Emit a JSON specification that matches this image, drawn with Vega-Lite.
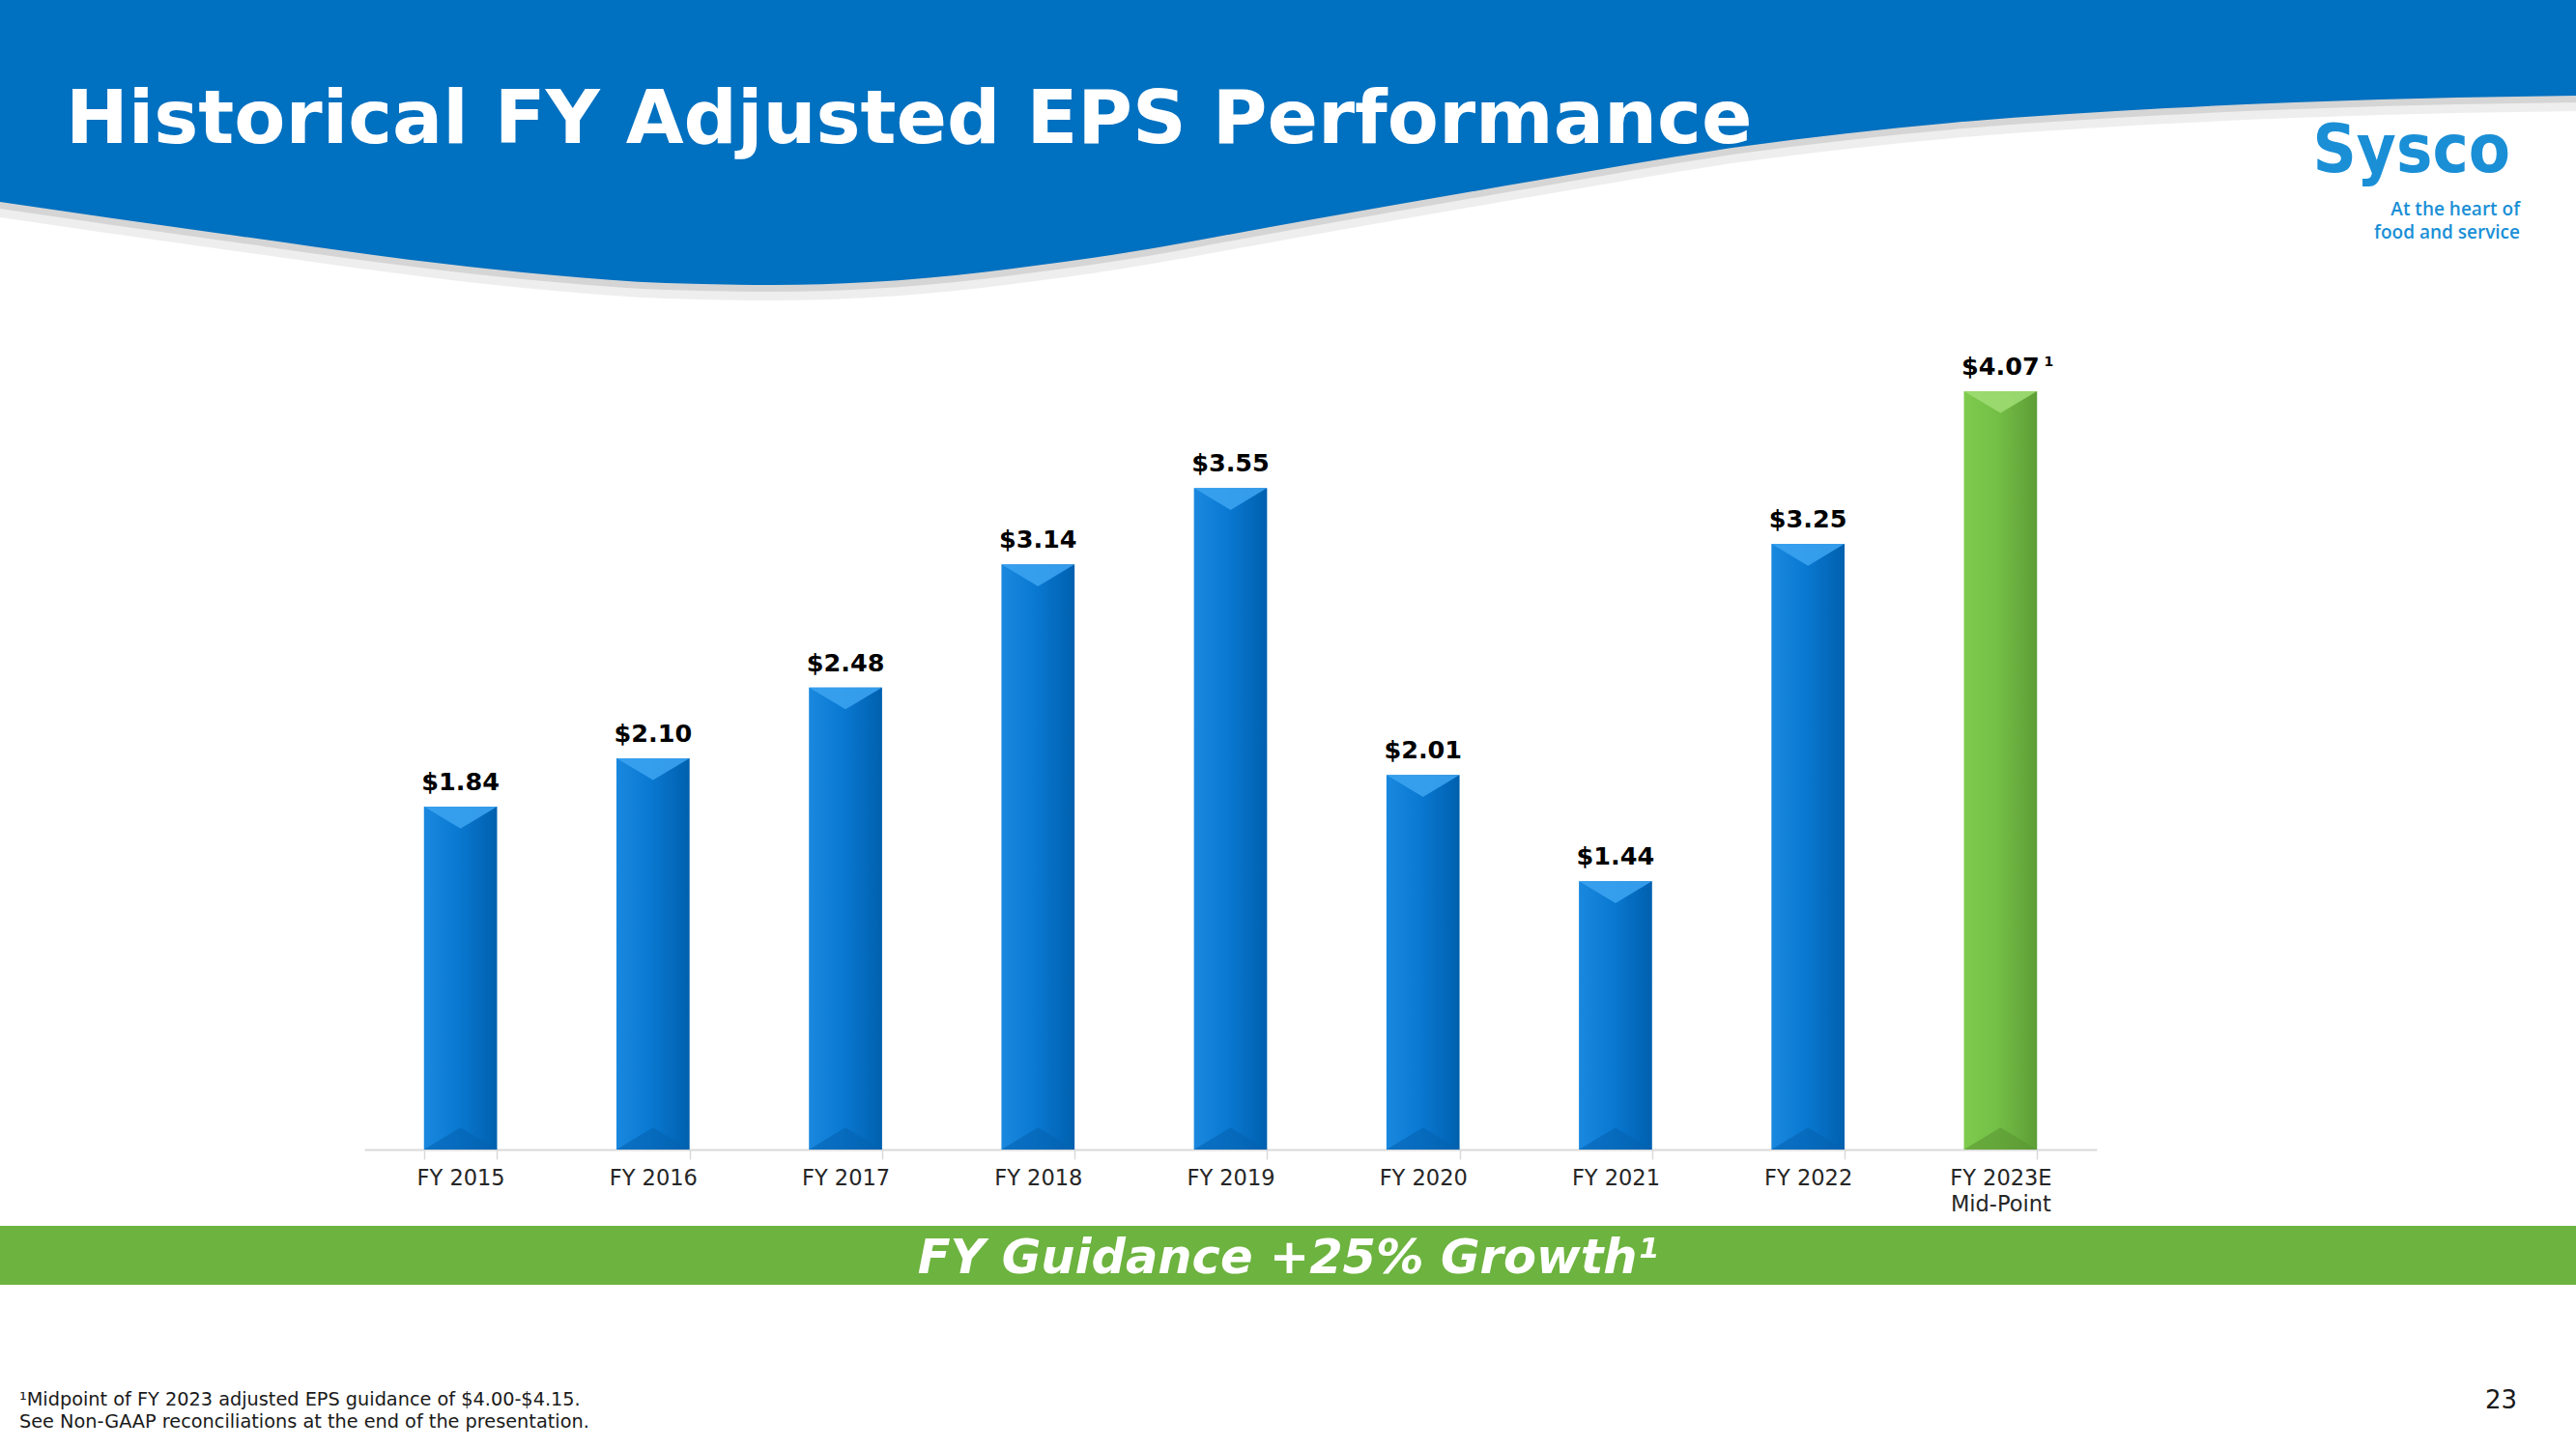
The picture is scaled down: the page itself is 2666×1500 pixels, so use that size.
{
  "$schema": "https://vega.github.io/schema/vega-lite/v6.json",
  "width": 1793,
  "height": 868,
  "autosize": "none",
  "padding": {"left": 377, "right": 496, "top": 322, "bottom": 310},
  "background": "white",
  "config": {"view": {"stroke": null}, "font": "DejaVu Sans"},
  "datasets": {
    "eps": [
      {"year": "FY 2015", "eps": 1.84, "kind": "actual"},
      {"year": "FY 2016", "eps": 2.10, "kind": "actual"},
      {"year": "FY 2017", "eps": 2.48, "kind": "actual"},
      {"year": "FY 2018", "eps": 3.14, "kind": "actual"},
      {"year": "FY 2019", "eps": 3.55, "kind": "actual"},
      {"year": "FY 2020", "eps": 2.01, "kind": "actual"},
      {"year": "FY 2021", "eps": 1.44, "kind": "actual"},
      {"year": "FY 2022", "eps": 3.25, "kind": "actual"},
      {"year": "FY 2023E Mid-Point", "eps": 4.07, "kind": "guidance", "note": "1"}
    ],
    "wave": [
      {"x": 0, "y": 1.045},
      {"x": 1.15, "y": 1.21},
      {"x": 2.295, "y": 1.365},
      {"x": 2.87, "y": 1.425},
      {"x": 3.445, "y": 1.465},
      {"x": 4.0, "y": 1.475},
      {"x": 4.5, "y": 1.46},
      {"x": 5.65, "y": 1.335},
      {"x": 6.795, "y": 1.135},
      {"x": 7.945, "y": 0.935},
      {"x": 9.0, "y": 0.76},
      {"x": 10.105, "y": 0.635},
      {"x": 11.21, "y": 0.56},
      {"x": 12.315, "y": 0.515},
      {"x": 13.333, "y": 0.495}
    ],
    "one": [{}]
  },
  "resolve": {"scale": {"x": "independent", "y": "independent"}},
  "layer": [
    {
      "data": {"name": "wave"},
      "mark": {"type": "area", "interpolate": "monotone", "color": "#8c8c8c", "opacity": 0.15, "clip": false},
      "encoding": {
        "x": {"field": "x", "type": "quantitative", "scale": {"domain": [1.885, 10.85], "zero": false, "nice": false}, "axis": null},
        "y": {"field": "y", "type": "quantitative", "scale": {"domain": [1.53, 5.87], "reverse": true, "zero": false, "nice": false}, "axis": null},
        "y2": {"datum": 0}
      }
    },
    {
      "data": {"name": "wave"},
      "mark": {"type": "area", "interpolate": "monotone", "color": "#8c8c8c", "opacity": 0.25, "clip": false},
      "encoding": {
        "x": {"field": "x", "type": "quantitative", "scale": {"domain": [1.885, 10.85], "zero": false, "nice": false}, "axis": null},
        "y": {"field": "y", "type": "quantitative", "scale": {"domain": [1.575, 5.915], "reverse": true, "zero": false, "nice": false}, "axis": null},
        "y2": {"datum": 0}
      }
    },
    {
      "data": {"name": "wave"},
      "mark": {"type": "area", "interpolate": "monotone", "color": "#0070c0", "clip": false},
      "encoding": {
        "x": {"field": "x", "type": "quantitative", "scale": {"domain": [1.885, 10.85], "zero": false, "nice": false}, "axis": null},
        "y": {"field": "y", "type": "quantitative", "scale": {"domain": [1.61, 5.95], "reverse": true, "zero": false, "nice": false}, "axis": null},
        "y2": {"datum": -0.05}
      }
    },
    {
      "data": {"name": "eps"},
      "encoding": {
        "x": {
          "field": "year", "type": "nominal", "sort": null,
          "scale": {"paddingInner": 0.62, "paddingOuter": 0.31},
          "axis": {
            "title": null, "domainColor": "#d9d9d9", "domainWidth": 2,
            "tickColor": "#d9d9d9", "tickWidth": 1.5, "tickSize": 10, "tickBand": "extent",
            "labelFont": "DejaVu Sans", "labelFontSize": 22.5, "labelColor": "#262626",
            "labelAngle": 0, "labelPadding": 8, "labelLineHeight": 27, "labelLimit": 0,
            "labelExpr": "datum.value === 'FY 2023E Mid-Point' ? ['FY 2023E', 'Mid-Point'] : datum.value"
          }
        },
        "y": {"field": "eps", "type": "quantitative", "scale": {"domain": [0, 4.5], "nice": false, "zero": true}, "axis": null}
      },
      "layer": [
        {
          "transform": [{"filter": "datum.kind === 'actual'"}],
          "mark": {"type": "bar", "color": {"gradient": "linear", "x1": 0, "y1": 0, "x2": 1, "y2": 0, "stops": [{"offset": 0, "color": "#1a88de"}, {"offset": 0.45, "color": "#0a79d2"}, {"offset": 1, "color": "#0060ae"}]}}
        },
        {
          "transform": [{"filter": "datum.kind === 'guidance'"}],
          "mark": {"type": "bar", "color": {"gradient": "linear", "x1": 0, "y1": 0, "x2": 1, "y2": 0, "stops": [{"offset": 0, "color": "#7ecb4e"}, {"offset": 0.45, "color": "#74bf46"}, {"offset": 1, "color": "#5e9d36"}]}}
        },
        {
          "transform": [{"filter": "datum.kind === 'actual'"}],
          "mark": {"type": "point", "shape": "M-1,0L1,0L0,0.6Z", "size": 5700, "filled": true, "color": "#3aa2f0", "opacity": 0.9, "strokeWidth": 0}
        },
        {
          "transform": [{"filter": "datum.kind === 'guidance'"}],
          "mark": {"type": "point", "shape": "M-1,0L1,0L0,0.6Z", "size": 5700, "filled": true, "color": "#9ddc72", "opacity": 0.9, "strokeWidth": 0}
        },
        {
          "transform": [{"filter": "datum.kind === 'actual'"}],
          "mark": {"type": "point", "shape": "M-1,0L1,0L0,-0.6Z", "size": 5700, "filled": true, "color": "#0563b0", "opacity": 0.6, "strokeWidth": 0},
          "encoding": {"y": {"datum": 0, "type": "quantitative"}}
        },
        {
          "transform": [{"filter": "datum.kind === 'guidance'"}],
          "mark": {"type": "point", "shape": "M-1,0L1,0L0,-0.6Z", "size": 5700, "filled": true, "color": "#5a9632", "opacity": 0.6, "strokeWidth": 0},
          "encoding": {"y": {"datum": 0, "type": "quantitative"}}
        },
        {
          "mark": {"type": "text", "font": "DejaVu Sans", "fontWeight": "bold", "fontSize": 25.5, "color": "#000000", "baseline": "alphabetic", "dy": -17},
          "encoding": {"text": {"field": "eps", "type": "quantitative", "format": "$.2f"}}
        },
        {
          "transform": [{"filter": "datum.note"}],
          "mark": {"type": "text", "font": "DejaVu Sans", "fontWeight": "bold", "fontSize": 14, "color": "#000000", "baseline": "alphabetic", "dy": -26, "dx": 50},
          "encoding": {"text": {"field": "note", "type": "nominal"}}
        }
      ]
    },
    {
      "data": {"name": "one"},
      "layer": [
        {
          "mark": {"type": "rect", "color": "#6db33f", "clip": false},
          "encoding": {
            "x": {"datum": -0.1, "type": "quantitative", "scale": {"domain": [1.885, 10.85], "zero": false, "nice": false}, "axis": null},
            "x2": {"datum": 13.5},
            "y": {"datum": 6.345, "type": "quantitative", "scale": {"domain": [1.61, 5.95], "reverse": true, "zero": false, "nice": false}, "axis": null},
            "y2": {"datum": 6.65}
          }
        },
        {
          "mark": {"type": "text", "text": "Historical FY Adjusted EPS Performance", "font": "DejaVu Sans", "fontWeight": "bold", "fontSize": 77.4, "color": "#ffffff", "align": "left", "baseline": "alphabetic", "clip": false},
          "encoding": {
            "x": {"datum": 0.34, "type": "quantitative", "scale": {"domain": [1.885, 10.85], "zero": false, "nice": false}, "axis": null},
            "y": {"datum": 0.74, "type": "quantitative", "scale": {"domain": [1.61, 5.95], "reverse": true, "zero": false, "nice": false}, "axis": null}
          }
        },
        {
          "mark": {"type": "text", "text": "Sysco", "font": "DejaVu Sans Condensed, DejaVu Sans", "fontWeight": "bold", "fontSize": 70, "color": "#1a8fd6", "align": "right", "baseline": "alphabetic", "clip": false},
          "encoding": {
            "x": {"datum": 12.99, "type": "quantitative", "scale": {"domain": [1.885, 10.85], "zero": false, "nice": false}, "axis": null},
            "y": {"datum": 0.89, "type": "quantitative", "scale": {"domain": [1.61, 5.95], "reverse": true, "zero": false, "nice": false}, "axis": null}
          }
        },
        {
          "mark": {"type": "text", "text": ["At the heart of", "food and service"], "lineHeight": 24, "font": "Open Sans", "fontWeight": 600, "fontSize": 19, "color": "#1a8fd6", "align": "right", "baseline": "alphabetic", "clip": false},
          "encoding": {
            "x": {"datum": 13.04, "type": "quantitative", "scale": {"domain": [1.885, 10.85], "zero": false, "nice": false}, "axis": null},
            "y": {"datum": 1.115, "type": "quantitative", "scale": {"domain": [1.61, 5.95], "reverse": true, "zero": false, "nice": false}, "axis": null}
          }
        },
        {
          "mark": {"type": "text", "text": "FY Guidance +25% Growth¹", "font": "DejaVu Sans", "fontWeight": "bold", "fontStyle": "italic", "fontSize": 49.5, "color": "#ffffff", "align": "center", "baseline": "alphabetic", "clip": false},
          "encoding": {
            "x": {"datum": 6.665, "type": "quantitative", "scale": {"domain": [1.885, 10.85], "zero": false, "nice": false}, "axis": null},
            "y": {"datum": 6.59, "type": "quantitative", "scale": {"domain": [1.61, 5.95], "reverse": true, "zero": false, "nice": false}, "axis": null}
          }
        },
        {
          "mark": {"type": "text", "text": ["¹Midpoint of FY 2023 adjusted EPS guidance of $4.00-$4.15.", "See Non-GAAP reconciliations at the end of the presentation."], "lineHeight": 23, "font": "DejaVu Sans", "fontSize": 19.3, "color": "#1a1a1a", "align": "left", "baseline": "alphabetic", "clip": false},
          "encoding": {
            "x": {"datum": 0.1, "type": "quantitative", "scale": {"domain": [1.885, 10.85], "zero": false, "nice": false}, "axis": null},
            "y": {"datum": 7.275, "type": "quantitative", "scale": {"domain": [1.61, 5.95], "reverse": true, "zero": false, "nice": false}, "axis": null}
          }
        },
        {
          "mark": {"type": "text", "text": "23", "font": "DejaVu Sans", "fontSize": 26, "color": "#1a1a1a", "align": "right", "baseline": "alphabetic", "clip": false},
          "encoding": {
            "x": {"datum": 13.025, "type": "quantitative", "scale": {"domain": [1.885, 10.85], "zero": false, "nice": false}, "axis": null},
            "y": {"datum": 7.29, "type": "quantitative", "scale": {"domain": [1.61, 5.95], "reverse": true, "zero": false, "nice": false}, "axis": null}
          }
        }
      ]
    }
  ]
}
